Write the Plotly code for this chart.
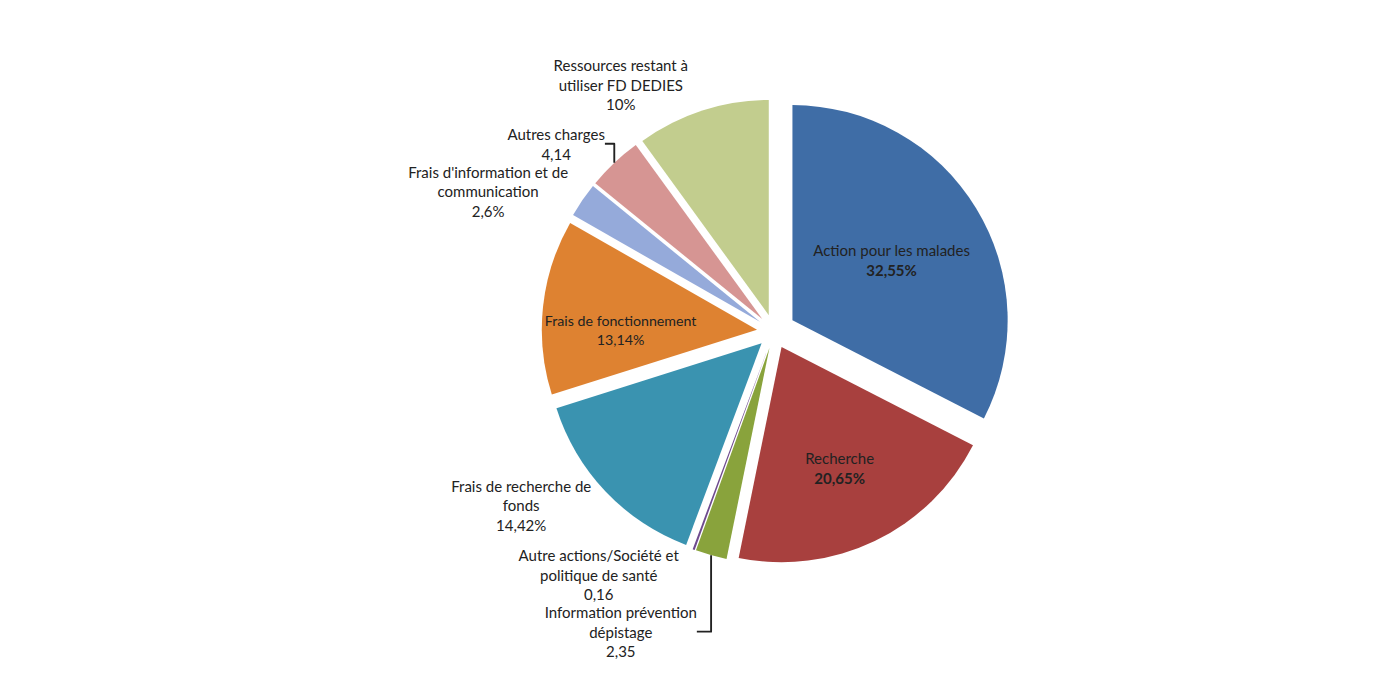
import plotly.graph_objects as go

labels = ["Action pour les malades", "Recherche", "Information prévention dépistage",
          "Autre actions/Société et politique de santé", "Frais de recherche de fonds",
          "Frais de fonctionnement", "Frais d'information et de communication",
          "Autres charges", "Ressources restant à utiliser FD DEDIES"]
values = [32.55, 20.65, 2.35, 0.16, 14.42, 13.14, 2.6, 4.14, 10]
value_text = ["32,55%", "20,65%", "2,35", "0,16", "14,42%", "13,14%", "2,6%", "4,14", "10%"]
label_text = ["Action pour les malades", "Recherche", "Information prévention<br>dépistage",
              "Autre actions/Société et<br>politique de santé", "Frais de recherche de<br>fonds",
              "Frais de fonctionnement", "Frais d'information et de<br>communication",
              "Autres charges", "Ressources restant à<br>utiliser FD DEDIES"]
colors = ["#3F6DA6", "#A8403E", "#89A33C", "#6E4A8E", "#3A93B0",
          "#DE8231", "#95AADA", "#D69593", "#C2CD8E"]

texts = []
for i in range(len(labels)):
    if i in (0, 1):
        texts.append(label_text[i] + "<br><b>" + value_text[i] + "</b>")
    else:
        texts.append(label_text[i] + "<br>" + value_text[i])

fig = go.Figure(go.Pie(
    labels=labels,
    values=values,
    text=texts,
    textinfo="text",
    sort=False,
    direction="clockwise",
    rotation=0,
    pull=[0.1, 0.08, 0.08, 0.08, 0.08, 0.08, 0.08, 0.08, 0.08],
    marker=dict(colors=colors, line=dict(color="white", width=0)),
    textposition=["inside", "inside", "outside", "outside", "outside",
                  "inside", "outside", "outside", "outside"],
    insidetextorientation="horizontal",
    insidetextfont=dict(color="#222222", size=15),
    outsidetextfont=dict(color="#222222", size=15),
    domain=dict(x=[0.2, 0.88], y=[0.03, 0.93]),
    showlegend=False,
))

fig.update_layout(
    width=1400, height=700,
    paper_bgcolor="white",
    font=dict(family="Lato, Open Sans, sans-serif", size=15, color="#222222"),
    margin=dict(l=20, r=20, t=40, b=20),
)

fig.write_html("out.html")
